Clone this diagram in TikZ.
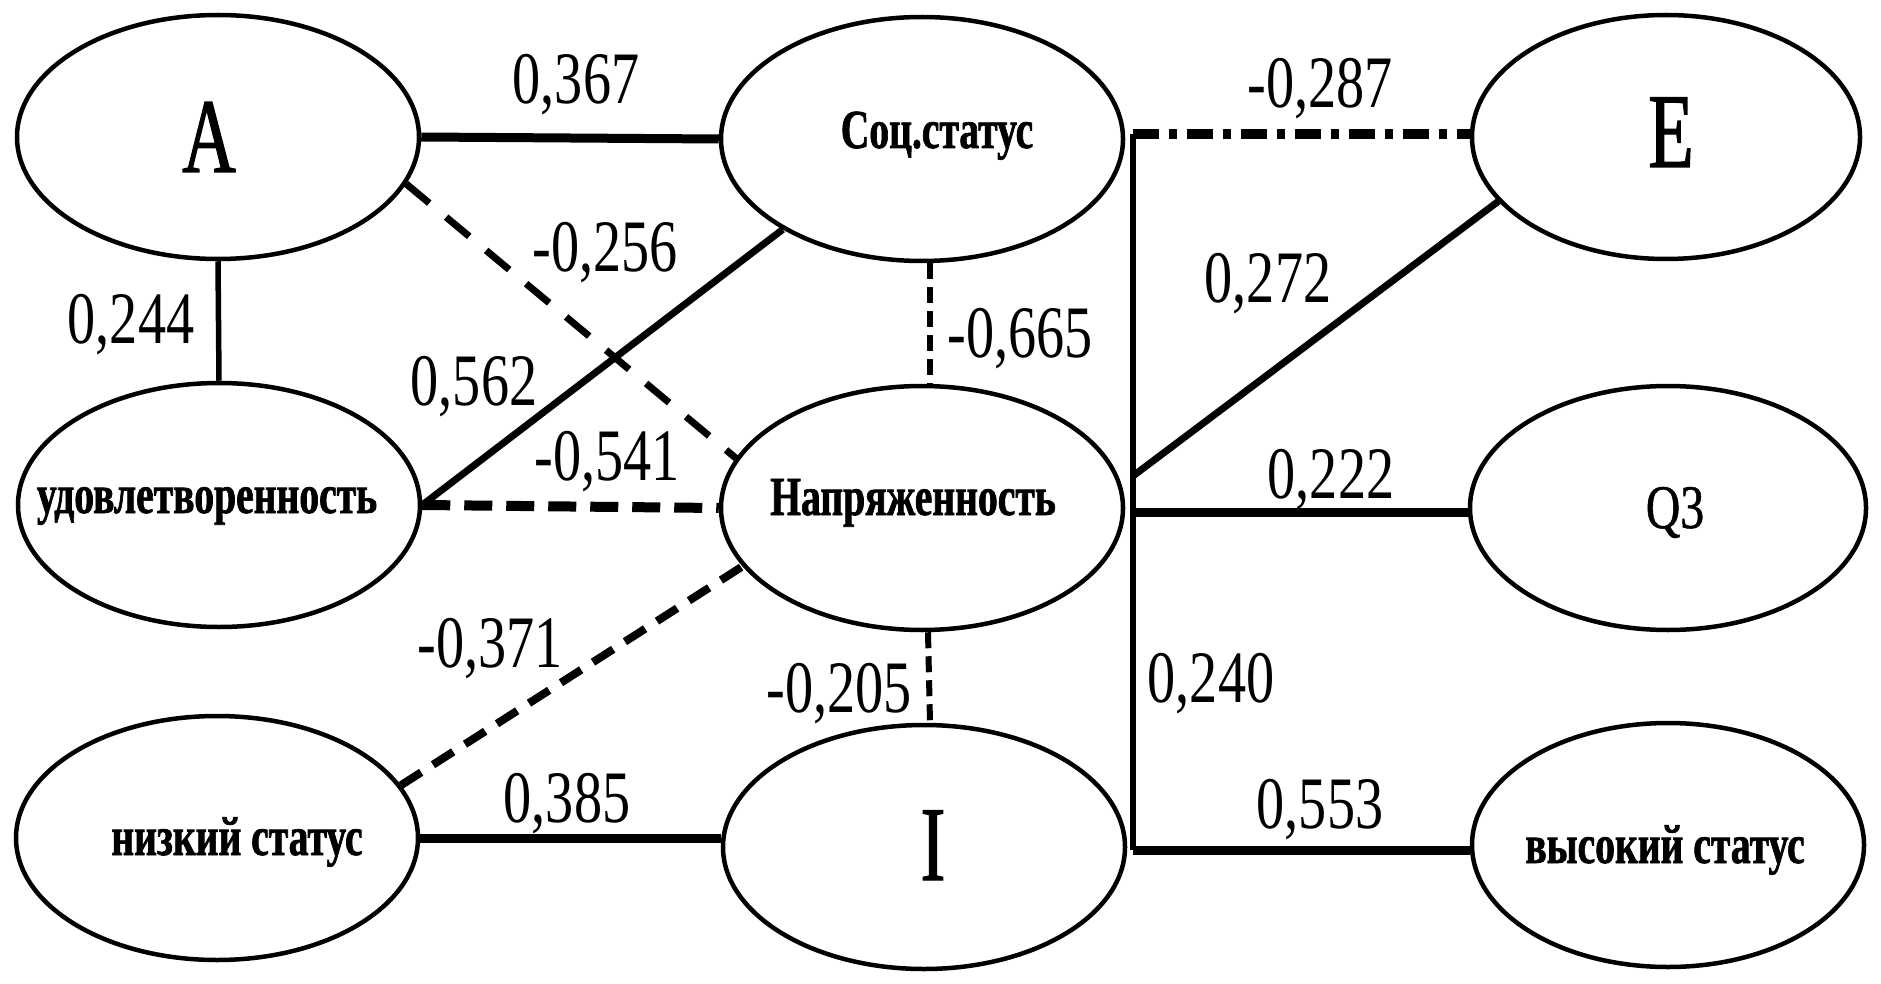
\documentclass[tikz,border=0pt]{standalone}
\usepackage{fontspec}
\setmainfont{Liberation Serif}
\newfontfamily\numfont[FakeStretch=0.76]{Liberation Serif}
\newfontfamily\bigfont[FakeStretch=0.70,FakeBold=1.2]{Liberation Serif}
\newfontfamily\qfont[FakeStretch=0.77,FakeBold=0.8]{Liberation Serif}
\newfontfamily\boldfont[FakeStretch=0.72,FakeBold=1.2]{Liberation Serif}
\usetikzlibrary{shapes.geometric}
\begin{document}
\begin{tikzpicture}[x=1pt,y=-1pt,
  ell/.style={draw, line width=4.5pt, ellipse, minimum width=402pt, minimum height=244pt, inner sep=0pt},
  num/.style={anchor=base, inner sep=0pt, font=\numfont\fontsize{74}{80}\selectfont},
  bigl/.style={anchor=base, inner sep=0pt, font=\bigfont\fontsize{106}{110}\selectfont},
  ql/.style={anchor=base, inner sep=0pt, font=\qfont\fontsize{62}{66}\selectfont},
  bl/.style={anchor=base, inner sep=0pt, font=\boldfont\bfseries\fontsize{55}{60}\selectfont},
  solidthick/.style={line width=9pt},
  solidmid/.style={line width=7pt},
  solidthin/.style={line width=5.5pt},
  dashA/.style={line width=7pt, dash pattern=on 30pt off 22pt},
  dashU/.style={line width=10pt, dash pattern=on 28pt off 14pt},
  dashV/.style={line width=6pt, dash pattern=on 16pt off 8pt},
  dashL/.style={line width=8pt, dash pattern=on 24pt off 14pt},
  dashdotE/.style={line width=10pt, dash pattern=on 26pt off 10pt on 8pt off 10pt},
]
\useasboundingbox (0,0) rectangle (1881,984);
\fill[white] (0,0) rectangle (1881,984);

% ellipses
\node[ell] (A) at (218,137) {};
\node[ell] (S) at (922,139) {};
\node[ell, minimum width=388pt] (E) at (1666,137) {};
\node[ell] (U) at (219,505) {};
\node[ell] (N) at (922,508) {};
\node[ell, minimum width=396pt] (Q) at (1668,508) {};
\node[ell] (L) at (217,838) {};
\node[ell] (I) at (924,847) {};
\node[ell, minimum width=392pt] (H) at (1668,845) {};

% texts
\node[bigl] (tA) at (209,172) {A};
\node[bigl] (tE) at (1671,167) {E};
\node[bigl] (tI) at (933,880) {I};
\node[ql] (tQ) at (1675,528) {Q3};
\node[bl] (tS) at (937,148) {Соц.статус};
\node[bl] (tU) at (207,513) {удовлетворенность};
\node[bl] (tN) at (913,515) {Напряженность};
\node[bl] (tL) at (237,855) {низкий статус};
\node[bl] (tH) at (1665,863) {высокий статус};

% bus coordinates
\coordinate (b1) at (1133,134);
\coordinate (b2) at (1133,476);
\coordinate (b3) at (1133,512);
\coordinate (b4) at (1133,850);

% connectors
\draw[solidthick] (A.east) -- (S.west);
\draw[solidthin] (A.south) -- (U.north);
\draw[dashA] (A.-14) -- (N.165);
\draw[solidmid] (U.east) -- (S.213);
\draw[dashU] (U.east) -- (N.west);
\draw[dashV] ([xshift=8pt]S.south) -- ([xshift=8pt]N.north);
\draw[dashdotE] (b1) -- (b1 -| E.west);
\draw[solidthin] (b1) -- (b4);
\draw[solidmid] (b2) -- (E.201);
\draw[solidthick] (b3) -- (b3 -| Q.west);
\draw[solidthick] (b4) -- (b4 -| H.west);
\draw[dashV] ([xshift=6pt]N.south) -- ([xshift=6pt]I.north);
\draw[dashL] (L.16) -- (N.198);
\draw[solidthick] (L.east) -- (L.east -| I.west);

% labels
\node[num] (n367) at (576,104) {0,367};
\node[num] (n244) at (131,343) {0,244};
\node[num] (n256) at (605,272) {-0,256};
\node[num] (n562) at (474,405) {0,562};
\node[num] (n541) at (607,480) {-0,541};
\node[num] (n665) at (1020,357) {-0,665};
\node[num] (n287) at (1320,108) {-0,287};
\node[num] (n272) at (1268,302) {0,272};
\node[num] (n222) at (1331,498) {0,222};
\node[num] (n240) at (1211,702) {0,240};
\node[num] (n553) at (1320,828) {0,553};
\node[num] (n205) at (839,712) {-0,205};
\node[num] (n371) at (490,667) {-0,371};
\node[num] (n385) at (567,822) {0,385};
\end{tikzpicture}
\end{document}
